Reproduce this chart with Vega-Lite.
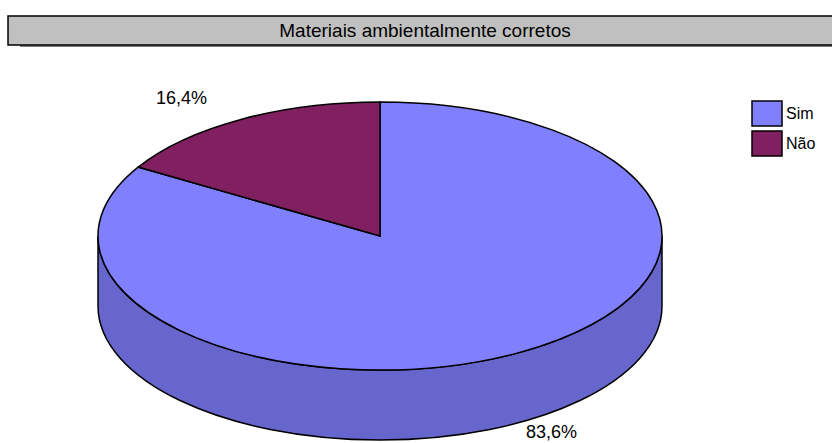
{
  "$schema": "https://vega.github.io/schema/vega-lite/v6.json",
  "width": 832,
  "height": 443,
  "padding": 0,
  "autosize": {"type": "none"},
  "background": "white",
  "config": {"view": {"stroke": null}, "font": "Liberation Sans"},
  "datasets": {
    "pie": [
      {"slice": "Sim", "pct": 83.6, "label": "83,6%"},
      {"slice": "Não", "pct": 16.4, "label": "16,4%"}
    ],
    "title": [{"text": "Materiais ambientalmente corretos"}]
  },
  "layer": [
    {
      "data": {"name": "title"},
      "mark": {"type": "rect", "fill": "#808080"},
      "encoding": {
        "x": {"datum": -1.2766, "type": "quantitative", "scale": {"domain": [-1.3475, 1.6028], "nice": false, "zero": false}, "axis": null},
        "x2": {"datum": 1.65},
        "y": {"datum": 0.7730, "type": "quantitative", "scale": {"domain": [-0.7340, 0.8369], "nice": false, "zero": false}, "axis": null},
        "y2": {"datum": 0.6702}
      }
    },
    {
      "data": {"name": "title"},
      "mark": {"type": "rect", "fill": "#C0C0C0", "stroke": "black", "strokeWidth": 1.5},
      "encoding": {
        "x": {"datum": -1.3191, "type": "quantitative"},
        "x2": {"datum": 1.65},
        "y": {"datum": 0.7801, "type": "quantitative"},
        "y2": {"datum": 0.6773}
      }
    },
    {
      "data": {"name": "title"},
      "mark": {"type": "text", "fontSize": 19, "color": "black", "baseline": "middle", "align": "center"},
      "encoding": {
        "x": {"datum": 0.1596, "type": "quantitative"},
        "y": {"datum": 0.7270, "type": "quantitative"},
        "text": {"field": "text"}
      }
    },
    {
      "data": {"name": "title"},
      "mark": {"type": "point", "filled": true, "opacity": 1, "fill": "#6666CC", "stroke": "black", "strokeWidth": 1.5, "size": 318096,
        "shape": "M-1,0L-1,0.2482A1,0.4752 0 0 0 1,0.2482L1,0A1,0.4752 0 0 1 -1,0Z"},
      "encoding": {
        "x": {"datum": 0, "type": "quantitative"},
        "y": {"datum": 0, "type": "quantitative"}
      }
    },
    {
      "data": {"name": "pie"},
      "transform": [{"filter": "datum.slice == 'Sim'"}],
      "mark": {"type": "point", "filled": true, "opacity": 1, "stroke": "black", "strokeWidth": 1.5, "size": 318096,
        "shape": "M0,0L0,-0.4752A1,0.4752 0 1 1 -0.8576,-0.2444Z"},
      "encoding": {
        "x": {"datum": 0, "type": "quantitative"},
        "y": {"datum": 0, "type": "quantitative"},
        "fill": {"field": "slice", "type": "nominal",
          "scale": {"domain": ["Sim", "Não"], "range": ["#8080FF", "#802060"]},
          "legend": {"title": null, "orient": "none", "legendX": 753, "legendY": 99.5, "padding": 0,
            "symbolType": "M-1.154,-0.9615H1.154V0.9615H-1.154Z", "symbolSize": 676,
            "symbolStrokeColor": "black", "symbolStrokeWidth": 1.5, "symbolOpacity": 1,
            "labelFont": "Liberation Sans", "labelFontSize": 16, "labelColor": "black", "labelOffset": 5, "rowPadding": -7}}
      }
    },
    {
      "data": {"name": "pie"},
      "transform": [{"filter": "datum.slice == 'Não'"}],
      "mark": {"type": "point", "filled": true, "opacity": 1, "stroke": "black", "strokeWidth": 1.5, "size": 318096,
        "shape": "M0,0L0,-0.4752A1,0.4752 0 0 0 -0.8576,-0.2444Z"},
      "encoding": {
        "x": {"datum": 0, "type": "quantitative"},
        "y": {"datum": 0, "type": "quantitative"},
        "fill": {"field": "slice", "type": "nominal"}
      }
    },
    {
      "data": {"name": "pie"},
      "transform": [{"filter": "datum.slice == 'Não'"}],
      "mark": {"type": "text", "fontSize": 18, "color": "black", "baseline": "middle", "align": "center"},
      "encoding": {
        "x": {"datum": -0.7039, "type": "quantitative"},
        "y": {"datum": 0.4858, "type": "quantitative"},
        "text": {"field": "label"}
      }
    },
    {
      "data": {"name": "pie"},
      "transform": [{"filter": "datum.slice == 'Sim'"}],
      "mark": {"type": "text", "fontSize": 18, "color": "black", "baseline": "middle", "align": "center"},
      "encoding": {
        "x": {"datum": 0.6082, "type": "quantitative"},
        "y": {"datum": -0.6968, "type": "quantitative"},
        "text": {"field": "label"}
      }
    }
  ]
}
